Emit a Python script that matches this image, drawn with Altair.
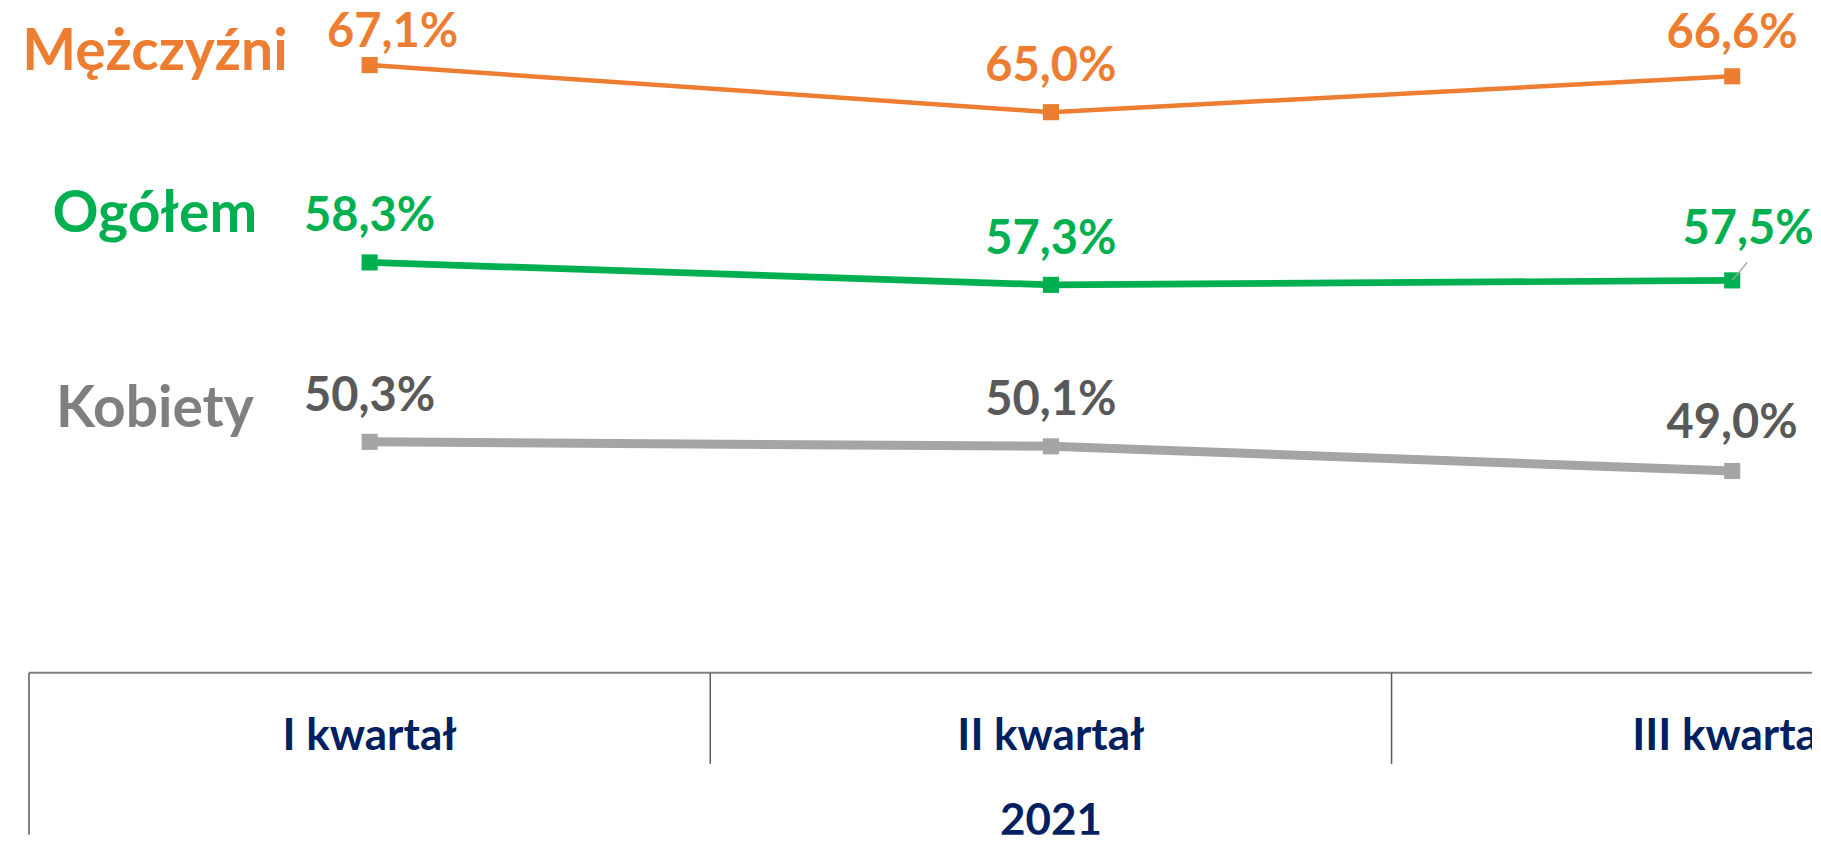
import altair as alt
import pandas as pd

# ---- data ----
quarters = ["I kwartał", "II kwartał", "III kwartał"]
year_label = "2021"
series_names = ["Mężczyźni", "Ogółem", "Kobiety"]
men = [67.1, 65.0, 66.6]
total = [58.3, 57.3, 57.5]
women = [50.3, 50.1, 49.0]

# ---- styles ----
line_colors = ["#ED7D31", "#00B050", "#A5A5A5"]
name_label_colors = ["#ED7D31", "#00B050", "#7F7F7F"]
line_widths = [4.5, 9, 4.5]
FONT = "Lato"
NAVY = "#002060"

rows = []
for s, vals in zip(series_names, [men, total, women]):
    for q, v in zip(quarters, vals):
        rows.append({"series": s, "quarter": q, "value": v,
                     "label": f"{v:.1f}".replace(".", ",") + "%"})
df = pd.DataFrame(rows)
qdf = pd.DataFrame({"quarter": quarters})
ydf = pd.DataFrame({"quarter": [quarters[len(quarters) // 2]], "year": [year_label]})

W, H = 1805, 827
x_scale = alt.Scale(type="band", domain=quarters, range=[21, 2066],
                    paddingInner=0, paddingOuter=0)
y_scale = alt.Scale(domain=[32.78, 69.635], zero=False, nice=False)

xc = alt.X("quarter:N", scale=x_scale, axis=None, bandPosition=0.5)
xe = alt.X("quarter:N", scale=x_scale, axis=None, bandPosition=0)
yv = alt.Y("value:Q", scale=y_scale, axis=None)
col = alt.Color("series:N", scale=alt.Scale(domain=series_names, range=line_colors), legend=None)

base = alt.Chart(df)

lines = base.mark_line().encode(
    x=xc, y=yv, color=col,
    strokeWidth=alt.StrokeWidth("series:N", scale=alt.Scale(domain=series_names, range=line_widths), legend=None),
)
points = base.mark_point(shape="square", filled=True, size=260, opacity=1).encode(
    x=xc, y=yv, color=col,
)
leader = base.transform_filter(alt.datum.label == "57,5%").mark_point(
    shape="M0,0L1,-1.2", filled=False, size=900, color="#A5A5A5", strokeWidth=1.5, opacity=1
).encode(x=xc, y=yv)

text_col = alt.condition(alt.datum.series == "Kobiety", alt.value("#595959"), col)


def value_labels(filt, dx, dy):
    return base.transform_filter(filt).mark_text(
        font=FONT, fontWeight="bold", fontSize=47, baseline="alphabetic",
        align="center", dx=dx, dy=dy, clip=True,
    ).encode(x=xc, y=yv, text="label:N", color=text_col)


special = ["67,1%", "66,6%", "57,5%", "49,0%"]
lbl_main = value_labels(~alt.FieldOneOfPredicate(field="label", oneOf=special), 0, -31)
lbl_a = value_labels(alt.datum.label == "67,1%", 23, -18)
lbl_b = value_labels(alt.datum.label == "66,6%", 0, -28)
lbl_c = value_labels(alt.datum.label == "57,5%", 16, -36)
lbl_d = value_labels(alt.datum.label == "49,0%", 0, -33)

name_pos = [(147, 62), (147, 224), (147, 419)]
name_layers = []
for nm, c, (px, py) in zip(series_names, name_label_colors, name_pos):
    name_layers.append(
        alt.Chart(pd.DataFrame({"name": [nm]})).mark_text(
            font=FONT, fontWeight="bold", fontSize=57, baseline="alphabetic",
            align="center", color=c,
        ).encode(x=alt.value(px), y=alt.value(py), text="name:N")
    )

axis_line = alt.Chart(qdf.head(1)).mark_rule(color="#808080", strokeWidth=2).encode(
    x=alt.value(21), x2=alt.value(W), y=alt.value(665),
)
separators = alt.Chart(qdf.iloc[1:]).mark_rule(color="#595959", strokeWidth=1.5).encode(
    x=xe, y=alt.value(665), y2=alt.value(756),
)
left_border = alt.Chart(qdf.head(1)).mark_rule(color="#595959", strokeWidth=1.5).encode(
    x=xe, y=alt.value(665), y2=alt.value(H),
)
cat_labels = alt.Chart(qdf).mark_text(
    font=FONT, fontWeight="bold", fontSize=44, baseline="alphabetic",
    align="center", color=NAVY, clip=True,
).encode(x=xc, y=alt.value(742), text="quarter:N")
year_text = alt.Chart(ydf).mark_text(
    font=FONT, fontWeight="bold", fontSize=44, baseline="alphabetic",
    align="center", color=NAVY, clip=True,
).encode(x=xc, y=alt.value(827), text="year:N")

chart = alt.layer(
    lines, points, leader,
    axis_line, separators, left_border, cat_labels, year_text,
    lbl_main, lbl_a, lbl_b, lbl_c, lbl_d,
    *name_layers,
).properties(
    width=W, height=H, padding=0, background="white",
).configure_view(stroke=None)

chart.save("out.html", embed_options={"renderer": "svg", "actions": False})
